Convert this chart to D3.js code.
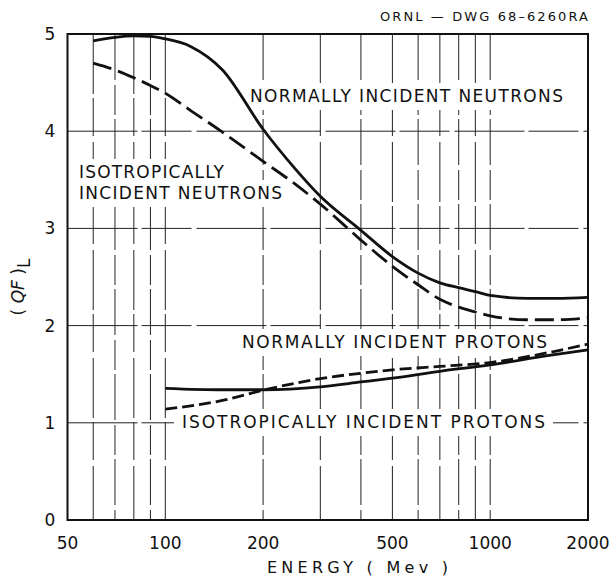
<!DOCTYPE html>
<html>
<head>
<meta charset="utf-8">
<script src="https://cdn.jsdelivr.net/npm/d3@7"></script>
<style>
  html, body { margin: 0; padding: 0; background: #fff; }
  svg { display: block; font-family: "DejaVu Sans", "Liberation Sans", sans-serif; }
</style>
</head>
<body>
<svg id="chart" width="615" height="579"></svg>
<script>
// ---- data ----
const xTickValues = [50, 100, 200, 500, 1000, 2000];
const xTickLabels = ["50", "100", "200", "500", "1000", "2000"];
const yTickValues = [0, 1, 2, 3, 4, 5];
const yTickLabels = ["0", "1", "2", "3", "4", "5"];
const xGridValues = [60, 70, 80, 90, 100, 200, 300, 400, 500, 600, 700, 800, 900, 1000];
const yGridValues = [1, 2, 3, 4];

const normNeutronE = [60, 70, 80, 90, 100, 120, 150, 200, 250, 300, 400, 500, 600, 700, 800, 900, 1000, 1300, 1600, 2000];
const normNeutronV = [4.93, 4.965, 4.98, 4.975, 4.95, 4.87, 4.63, 4.02, 3.62, 3.33, 2.98, 2.71, 2.54, 2.44, 2.39, 2.35, 2.31, 2.28, 2.28, 2.29];
const isoNeutronE = [60, 70, 80, 90, 100, 120, 150, 200, 250, 300, 400, 500, 600, 700, 800, 900, 1000, 1300, 1600, 2000];
const isoNeutronV = [4.70, 4.63, 4.55, 4.47, 4.39, 4.21, 3.99, 3.69, 3.46, 3.25, 2.88, 2.61, 2.42, 2.27, 2.19, 2.14, 2.10, 2.06, 2.06, 2.08];
const normProtonE = [100, 150, 200, 300, 400, 500, 700, 1000, 1500, 2000];
const normProtonV = [1.355, 1.34, 1.34, 1.37, 1.42, 1.46, 1.53, 1.595, 1.69, 1.75];
const isoProtonE = [100, 150, 200, 300, 400, 500, 700, 1000, 1500, 2000];
const isoProtonV = [1.14, 1.23, 1.335, 1.455, 1.51, 1.545, 1.58, 1.62, 1.72, 1.81];

const drawingId = "ORNL \u2014 DWG 68\u20136260RA";
const xTitle = "ENERGY ( Mev )";

// ---- layout ----
const svg = d3.select("#chart");
const pLeft = 67.5, pRight = 588, pTop = 34, pBottom = 520;
const x = d3.scaleLog().domain([50, 2000]).range([pLeft, pRight]);
const y = d3.scaleLinear().domain([0, 5]).range([pBottom, pTop]);

// grid
const grid = svg.append("g").attr("stroke", "#222").attr("stroke-width", 1);
grid.selectAll("line.v").data(xGridValues).join("line")
  .attr("class", "v")
  .attr("x1", d => x(d)).attr("x2", d => x(d))
  .attr("y1", pTop).attr("y2", pBottom)
  .attr("stroke-dasharray", (d, i) => i % 2 ? "46,5,30,4" : "60,4,38,6");
grid.selectAll("line.h").data(yGridValues).join("line")
  .attr("class", "h")
  .attr("y1", d => y(d)).attr("y2", d => y(d))
  .attr("x1", pLeft).attr("x2", pRight)
  .attr("stroke-dasharray", "70,4,50,5");

// labels inside plot (with white background to interrupt the grid)
const labels = [
  { t: "NORMALLY INCIDENT NEUTRONS", x: 250, y: 102, len: 313 },
  { t: "ISOTROPICALLY", x: 79, y: 178, len: 145 },
  { t: "INCIDENT NEUTRONS", x: 79, y: 199, len: 203 },
  { t: "NORMALLY INCIDENT PROTONS", x: 242, y: 348, len: 305 },
  { t: "ISOTROPICALLY INCIDENT PROTONS", x: 182, y: 428, len: 363 }
];
const bg = svg.append("g");
labels.forEach(l => {
  bg.append("rect")
    .attr("x", l.x - 8).attr("y", l.y - 19)
    .attr("width", l.len + 16).attr("height", 27)
    .attr("fill", "#fff");
});

// curves
const line = d3.line().x(d => x(d[0])).y(d => y(d[1])).curve(d3.curveMonotoneX);
const curves = [
  { e: normNeutronE, v: normNeutronV, dash: null },
  { e: isoNeutronE, v: isoNeutronV, dash: "19,7" },
  { e: normProtonE, v: normProtonV, dash: null },
  { e: isoProtonE, v: isoProtonV, dash: "12,5" }
];
svg.append("g").selectAll("path").data(curves).join("path")
  .attr("d", c => line(d3.zip(c.e, c.v)))
  .attr("fill", "none").attr("stroke", "#111")
  .attr("stroke-width", 2.8)
  .attr("stroke-dasharray", c => c.dash);

// label texts
svg.append("g").selectAll("text").data(labels).join("text")
  .attr("x", l => l.x).attr("y", l => l.y)
  .attr("font-size", 17).attr("fill", "#111")
  .attr("textLength", l => l.len).attr("lengthAdjust", "spacing")
  .text(l => l.t);

// frame
svg.append("rect")
  .attr("x", pLeft).attr("y", pTop)
  .attr("width", pRight - pLeft).attr("height", pBottom - pTop)
  .attr("fill", "none").attr("stroke", "#111").attr("stroke-width", 2);

// axes tick labels
svg.append("g").selectAll("text").data(xTickValues).join("text")
  .attr("x", d => x(d)).attr("y", 549)
  .attr("text-anchor", "middle").attr("font-size", 17).attr("fill", "#111")
  .text((d, i) => xTickLabels[i]);
svg.append("g").selectAll("text").data(yTickValues).join("text")
  .attr("x", 50).attr("y", d => y(d) + 6)
  .attr("text-anchor", "middle").attr("font-size", 17).attr("fill", "#111")
  .text((d, i) => yTickLabels[i]);

// x title
svg.append("text")
  .attr("x", 267).attr("y", 573)
  .attr("font-size", 16).attr("fill", "#111")
  .attr("textLength", 181).attr("lengthAdjust", "spacing")
  .text(xTitle);

// y title (QF)_L
const yt = svg.append("text")
  .attr("transform", "translate(24,287) rotate(-90)")
  .attr("text-anchor", "middle").attr("font-size", 17).attr("fill", "#111");
yt.append("tspan").text("( ");
yt.append("tspan").attr("font-style", "italic").text("QF");
yt.append("tspan").text(" )");
yt.append("tspan").attr("dy", 6).text("L");

// drawing id
svg.append("text")
  .attr("x", 380).attr("y", 21)
  .attr("font-size", 13).attr("fill", "#111")
  .attr("textLength", 208).attr("lengthAdjust", "spacing")
  .text(drawingId);
</script>
</body>
</html>
